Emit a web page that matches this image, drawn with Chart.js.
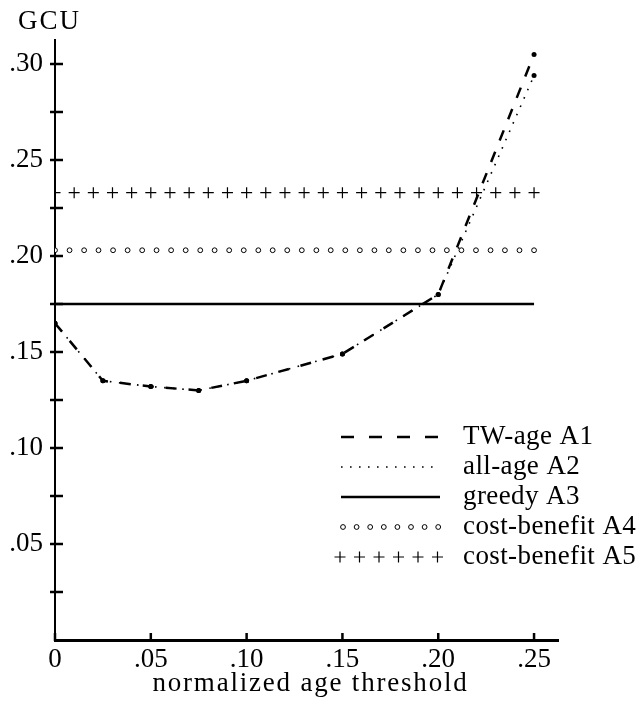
<!DOCTYPE html>
<html lang="en">
<head>
  <meta charset="UTF-8" />
  <title>GCU vs normalized age threshold</title>
  <script src="https://cdn.jsdelivr.net/npm/chart.js"></script>
  <style>
    * { box-sizing: border-box; margin: 0; padding: 0; }
    body { background: #fff; }
    #wrap { width: 641px; height: 702px; }
  </style>
</head>
<body>
  <div id="wrap"><canvas id="chart" width="641" height="702"></canvas></div>

  <script>
    // age thresholds where A1 / A2 were measured
    const thresholds = [0, 0.025, 0.05, 0.075, 0.10, 0.15, 0.20, 0.25];
    const twAge  = [0.165, 0.135, 0.132, 0.130, 0.135, 0.149, 0.180, 0.305];
    const allAge = [0.165, 0.135, 0.132, 0.130, 0.135, 0.149, 0.180, 0.294];

    // flat policies (do not depend on the threshold)
    const greedyX = [0, 0.25];
    const greedy = 0.175;
    const cb4X = [0, 0.0076, 0.0152, 0.0227, 0.0303, 0.0379, 0.0455, 0.053, 0.0606, 0.0682,
                  0.0758, 0.0833, 0.0909, 0.0985, 0.1061, 0.1136, 0.1212, 0.1288, 0.1364,
                  0.1439, 0.1515, 0.1591, 0.1667, 0.1742, 0.1818, 0.1894, 0.197, 0.2045,
                  0.2121, 0.2197, 0.2273, 0.2348, 0.2424, 0.25];
    const costBenefit4 = 0.203;
    const cb5X = [0, 0.01, 0.02, 0.03, 0.04, 0.05, 0.06, 0.07, 0.08, 0.09, 0.10, 0.11, 0.12,
                  0.13, 0.14, 0.15, 0.16, 0.17, 0.18, 0.19, 0.20, 0.21, 0.22, 0.23, 0.24, 0.25];
    const costBenefit5 = 0.233;

    const labels = ["TW-age A1", "all-age A2", "greedy A3", "cost-benefit A4", "cost-benefit A5"];
    const xTicks = [0, 0.05, 0.10, 0.15, 0.20, 0.25];
    const yTicks = [0.05, 0.10, 0.15, 0.20, 0.25, 0.30];
    const yMinorTicks = [0.025, 0.075, 0.125, 0.175, 0.225, 0.275];

    const serif = '"Liberation Serif", "DejaVu Serif", serif';
    const pts = (xs, ys) => xs.map((x, i) => ({ x: x, y: Array.isArray(ys) ? ys[i] : ys }));
    const fmt = v => v === 0 ? "0" : v.toFixed(2).replace(/^0/, "");

    const datasets = [
      { label: labels[0], data: pts(thresholds, twAge), showLine: true, borderColor: "#000",
        borderWidth: 2.5, borderDash: [11, 12], pointRadius: 2.5, pointBackgroundColor: "#000",
        pointBorderWidth: 0 },
      { label: labels[1], data: pts(thresholds, allAge), showLine: true, borderColor: "#000",
        borderWidth: 1.6, borderDash: [1.6, 7.5], pointRadius: 2.5, pointBackgroundColor: "#000",
        pointBorderWidth: 0 },
      { label: labels[2], data: pts(greedyX, greedy), showLine: true, borderColor: "#000",
        borderWidth: 2.5, pointRadius: 0 },
      { label: labels[3], data: pts(cb4X, costBenefit4), showLine: false, pointStyle: "circle",
        pointRadius: 2.4, borderColor: "#000", pointBorderWidth: 1, pointBackgroundColor: "#fff" },
      { label: labels[4], data: pts(cb5X, costBenefit5), showLine: false, pointStyle: "cross",
        pointRadius: 5.5, borderColor: "#000", pointBorderWidth: 1.2 }
    ];

    // tick marks, GCU, x title and the key are drawn here
    const decor = {
      id: "decor",
      afterDraw(chart) {
        const { ctx, chartArea: a, scales: { x, y } } = chart;
        ctx.save();
        ctx.strokeStyle = "#000";
        ctx.fillStyle = "#000";
        ctx.lineWidth = 2.5;
        ctx.beginPath();
        yTicks.concat(yMinorTicks).forEach(v => {
          const py = y.getPixelForValue(v);
          ctx.moveTo(a.left - 5, py); ctx.lineTo(a.left + 8, py);
        });
        xTicks.forEach(v => {
          const px = x.getPixelForValue(v);
          ctx.moveTo(px, a.bottom + 1); ctx.lineTo(px, a.bottom - 7);
        });
        ctx.stroke();

        ctx.textBaseline = "middle";
        ctx.font = "27px " + serif;
        ctx.letterSpacing = "2px";
        ctx.textAlign = "left";
        ctx.fillText("GCU", 18, 22);
        ctx.letterSpacing = "1.8px";
        ctx.textAlign = "center";
        ctx.fillText("normalized age threshold", (a.left + a.right) / 2 + 4, 684);

        // key
        ctx.letterSpacing = "0.4px";
        ctx.textAlign = "left";
        const x0 = 341, x1 = 440;
        labels.forEach((lab, i) => {
          const ry = 437 + 30 * i;
          const ds = datasets[i];
          ctx.beginPath();
          if (i < 3) {
            ctx.lineWidth = ds.borderWidth;
            ctx.setLineDash(i === 0 ? [13, 15] : i === 1 ? [1.6, 7.4] : []);
            ctx.moveTo(x0, ry); ctx.lineTo(x1, ry);
            ctx.stroke();
            ctx.setLineDash([]);
          } else if (i === 3) {
            ctx.lineWidth = 1;
            for (let k = 0; k < 8; k++) {
              const cx = 343 + k * 13.6;
              ctx.moveTo(cx + 2.4, ry);
              ctx.arc(cx, ry, 2.4, 0, Math.PI * 2);
            }
            ctx.stroke();
          } else {
            ctx.lineWidth = 1.2;
            for (let k = 0; k < 6; k++) {
              const cx = 340 + k * 19.5;
              ctx.moveTo(cx - 5.5, ry); ctx.lineTo(cx + 5.5, ry);
              ctx.moveTo(cx, ry - 5.5); ctx.lineTo(cx, ry + 5.5);
            }
            ctx.stroke();
          }
          ctx.fillText(lab, 463, ry);
        });
        ctx.restore();
      }
    };

    new Chart(document.getElementById("chart"), {
      type: "scatter",
      data: { datasets: datasets },
      plugins: [decor],
      options: {
        responsive: false,
        animation: false,
        events: [],
        layout: { padding: { left: 0, right: 83, top: 40, bottom: 0 } },
        plugins: { legend: { display: false }, tooltip: { enabled: false } },
        scales: {
          x: {
            type: "linear", min: 0, max: 0.2625,
            afterFit: s => { s.height = 62; },
            afterBuildTicks: s => { s.ticks = xTicks.map(v => ({ value: v })); },
            grid: { display: false, drawTicks: false, tickLength: 0 },
            border: { display: true, color: "#000", width: 3 },
            ticks: { color: "#000", padding: 4, maxRotation: 0, autoSkip: false,
                     font: { family: serif, size: 27 }, callback: fmt }
          },
          y: {
            type: "linear", min: 0, max: 0.3125,
            afterFit: s => { s.width = 55; },
            afterBuildTicks: s => { s.ticks = yTicks.map(v => ({ value: v })); },
            grid: { display: false, drawTicks: false, tickLength: 0 },
            border: { display: true, color: "#000", width: 2 },
            ticks: { color: "#000", padding: 12, autoSkip: false,
                     font: { family: serif, size: 27 }, callback: fmt }
          }
        }
      }
    });
  </script>
</body>
</html>
